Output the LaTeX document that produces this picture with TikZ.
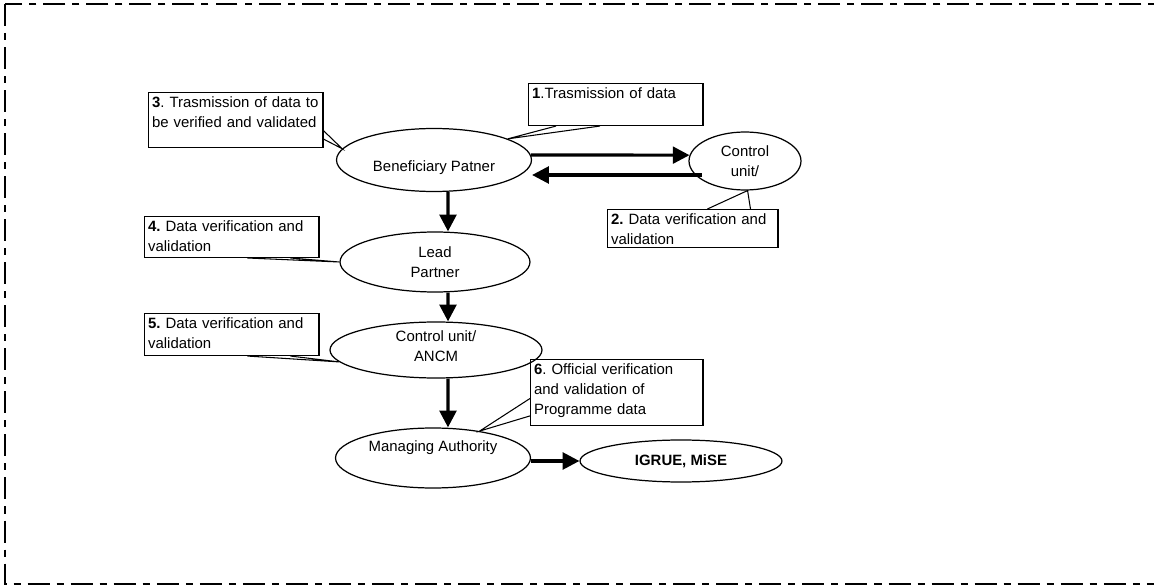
\documentclass[tikz,border=0pt]{standalone}
\usepackage{fontspec}
\setmainfont{Liberation Sans}
\usetikzlibrary{arrows.meta,calc,shapes.geometric}
\frenchspacing

\begin{document}
\begin{tikzpicture}[x=0.02cm,y=-0.02cm,
    every node/.style={font=\fontsize{8.5}{11.3}\selectfont},
    bubble/.style={draw,ellipse,line width=0.7pt,inner sep=0pt,align=center},
    note/.style={draw,rectangle,line width=0.7pt,anchor=north west,inner sep=2pt,align=left,text height=6.5pt},
    flow/.style={line width=1.8pt,-{Triangle[length=9.5pt,width=9.5pt]}},
    tail/.style={line width=0.6pt},
    border/.style={line width=1.6pt,dash pattern=on 12.5pt off 4pt on 4pt off 4pt}]
                        \useasboundingbox (0,0) rectangle (1154,588);

                        % Frame
                        \draw [border] (5,4) rectangle (1220,584);

                        % Ellipses
                        \node [bubble,minimum width=3.9cm,minimum height=1.26cm,label={[yshift=-4.5pt]center:Beneficiary Patner}] (ben) at (434,160) {};
                        \node [bubble,minimum width=2.24cm,minimum height=1.16cm] (ctl) at (745,161) {Control\\unit/};
                        \node [bubble,minimum width=3.8cm,minimum height=1.2cm] (lead) at (435,262) {Lead\\Partner};
                        \node [bubble,minimum width=4.24cm,minimum height=1.12cm,label={[yshift=2.3pt,align=center]center:Control unit/\\ANCM}] (ancm) at (436,350) {};
                        \node [bubble,minimum width=3.9cm,minimum height=1.2cm,label={[yshift=6pt]center:Managing Authority}] (ma) at (433,458) {};
                        \node [bubble,minimum width=4.04cm,minimum height=0.84cm,font=\fontsize{8.5}{11.3}\selectfont\bfseries] (igrue) at (681,461) {IGRUE, MiSE};

                        % Notes
                        \node [note,text width=95.2pt,text depth=13.3pt] (n1) at (528,83) {\textbf{1}.Trasmission of data};
                        \node [note,text width=93pt,text depth=11pt] (n2) at (607,209) {\textbf{2.} Data verification and\\validation};
                        \node [note,text width=95.2pt,text depth=20.7pt] (n3) at (148,92) {\textbf{3}. Trasmission of data to\\be verified and validated};
                        \node [note,text width=95.2pt,text depth=12.7pt] (n4) at (144,216) {\textbf{4.} Data verification and\\validation};
                        \node [note,text width=95.2pt,text depth=13.3pt] (n5) at (144,313) {\textbf{5.} Data verification and\\validation};
                        \node [note,text width=94.1pt,text depth=26.9pt] (n6) at (530,359) {\textbf{6}. Official verification\\and validation of\\Programme data};

                        % Tails
                        \draw [tail] ($(n1.south west)!0.16!(n1.south east)$) -- (ben.16) -- ($(n1.south west)!0.41!(n1.south east)$);
                        \draw [tail] ($(n2.north west)!0.585!(n2.north east)$) -- (ctl.-85) -- ($(n2.north west)!0.836!(n2.north east)$);
                        \draw [tail] ($(n3.north east)!0.69!(n3.south east)$) -- (ben.173) -- ($(n3.north east)!0.84!(n3.south east)$);
                        \draw [tail] ($(n4.south west)!0.589!(n4.south east)$) -- (lead.west) -- ($(n4.south west)!0.834!(n4.south east)$);
                        \draw [tail] ($(n5.south west)!0.589!(n5.south east)$) -- (ancm.187) -- ($(n5.south west)!0.834!(n5.south east)$);
                        \draw [tail] ($(n6.north west)!0.59!(n6.south west)$) -- (ma.30) -- ($(n6.north west)!0.85!(n6.south west)$);

                        % Arrows
                        \coordinate (ret) at (702,175);
                        \draw [flow] (ben.3) -- (ctl.174);
                        \draw [flow] (ret) -- (ret -| ben.east);
                        \draw [flow] ([xshift=.28cm]ben.south) -- ([xshift=.26cm]lead.north);
                        \draw [flow] ([xshift=.26cm]lead.south) -- ([xshift=.24cm]ancm.north);
                        \draw [flow] ([xshift=.24cm]ancm.south) -- ([xshift=.30cm]ma.north);
                        \draw [flow] (ma.east |- igrue.west) -- (igrue.west);
                    \end{tikzpicture}
\end{document}
